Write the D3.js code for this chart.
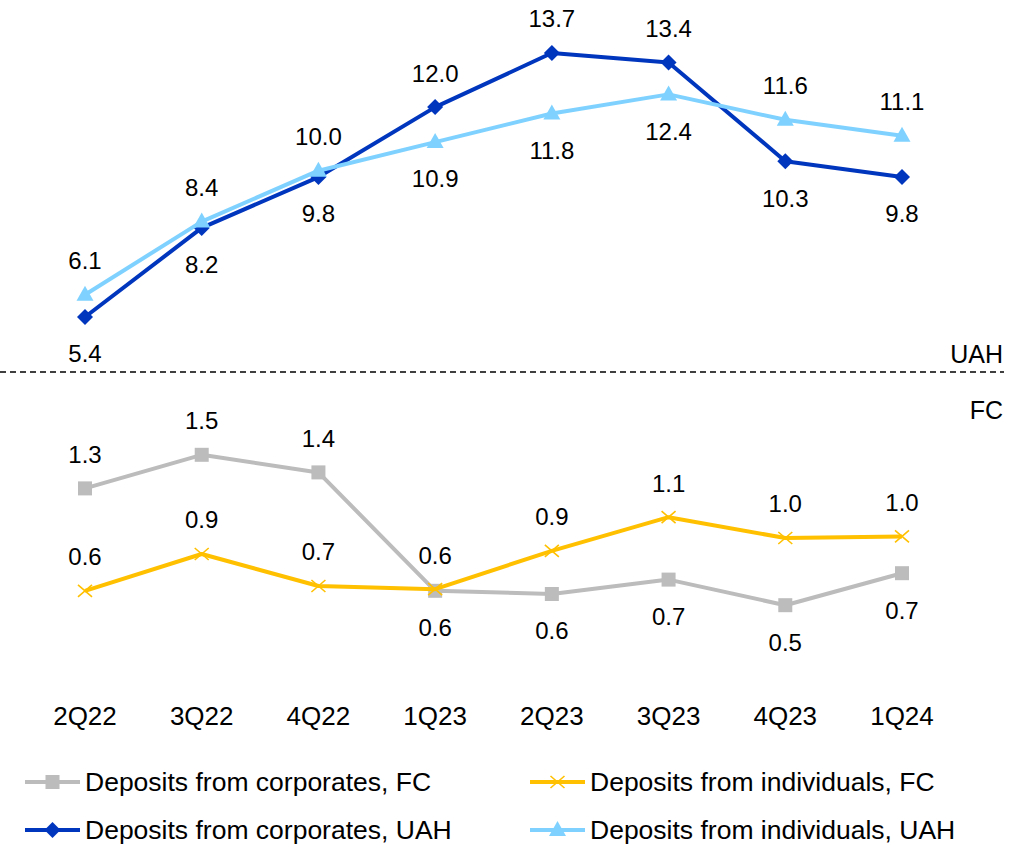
<!DOCTYPE html>
<html>
<head>
<meta charset="utf-8">
<script src="https://cdn.jsdelivr.net/npm/d3@7"></script>
<style>
  body { margin: 0; background: #fff; }
  svg text { font-family: "Liberation Sans", Arial, sans-serif; fill: #000; }
</style>
</head>
<body>
<div class="chart"></div>
<script>
// Quarters on the x axis
var quarters = ["2Q22", "3Q22", "4Q22", "1Q23", "2Q23", "3Q23", "4Q23", "1Q24"];

// UAH deposits
var corpUAH = [5.4, 8.2, 9.8, 12.0, 13.7, 13.4, 10.3, 9.8];
var indivUAH = [6.1, 8.4, 10.0, 10.9, 11.8, 12.4, 11.6, 11.1];

// FC deposits (labels are rounded)
var corpFC = [1.27, 1.48, 1.37, 0.63, 0.61, 0.70, 0.54, 0.74];
var indivFC = [0.63, 0.86, 0.66, 0.64, 0.88, 1.09, 0.96, 0.97];

// where the value label goes for each point
var corpUAHLab = ["b", "b", "b", "a", "a", "a", "b", "b"];
var indivUAHLab = ["a", "a", "a", "b", "b", "b", "a", "a"];
var corpFCLab = ["a", "a", "a", "b", "b", "b", "b", "b"];
var indivFCLab = ["a", "a", "a", "a", "a", "a", "a", "a"];

var svgWidth = 1026;
var svgHeight = 847;

var svg = d3.select(".chart")
            .append("svg")
            .attr("width", svgWidth)
            .attr("height", svgHeight);

var xScale = d3.scalePoint()
               .domain(quarters)
               .range([85, 902]);

// two panels, each with its own scale
var yTop = d3.scaleLinear().domain([4, 14]).range([361.5, 43.5]);
var yBottom = d3.scaleLinear().domain([0, 1.5]).range([691.6, 451.6]);

var series = [
  { name: "Deposits from corporates, FC", values: corpFC, lab: corpFCLab, y: yBottom, color: "#BCBCBC", marker: "square" },
  { name: "Deposits from individuals, FC", values: indivFC, lab: indivFCLab, y: yBottom, color: "#FFC000", marker: "cross" },
  { name: "Deposits from corporates, UAH", values: corpUAH, lab: corpUAHLab, y: yTop, color: "#0035BE", marker: "diamond" },
  { name: "Deposits from individuals, UAH", values: indivUAH, lab: indivUAHLab, y: yTop, color: "#7FD2FF", marker: "triangle" }
];

function drawMarker(g, type, color) {
  if (type === "square") {
    g.append("rect").attr("x", -7).attr("y", -7).attr("width", 14).attr("height", 14).attr("fill", color);
  } else if (type === "diamond") {
    g.append("path").attr("d", "M0,-8L8,0L0,8L-8,0Z").attr("fill", color);
  } else if (type === "triangle") {
    g.append("path").attr("d", "M0,-9L8.5,6L-8.5,6Z").attr("fill", color);
  } else if (type === "cross") {
    g.append("path").attr("d", "M-7,-6L7,6M-7,6L7,-6")
     .attr("stroke", color).attr("stroke-width", 1.6).attr("fill", "none");
  }
}

var line = function(s) {
  return d3.line()
           .x(function(d, i) { return xScale(quarters[i]); })
           .y(function(d) { return s.y(d); });
};

var fmt = d3.format(".1f");

series.forEach(function(s) {
  var g = svg.append("g");
  g.append("path")
   .datum(s.values)
   .attr("d", line(s))
   .attr("fill", "none")
   .attr("stroke", s.color)
   .attr("stroke-width", 4)
   .attr("stroke-linejoin", "round");

  s.values.forEach(function(v, i) {
    var m = g.append("g")
             .attr("transform", `translate(${xScale(quarters[i])}, ${s.y(v)})`);
    drawMarker(m, s.marker, s.color);
  });
});

// value labels on top of everything
series.forEach(function(s) {
  svg.append("g")
     .selectAll("text")
     .data(s.values)
     .enter()
     .append("text")
     .attr("x", function(d, i) { return xScale(quarters[i]); })
     .attr("y", function(d, i) { return s.y(d) + (s.lab[i] === "a" ? -34 : 37); })
     .attr("dy", "0.35em")
     .attr("text-anchor", "middle")
     .style("font-size", "24px")
     .text(function(d) { return fmt(d); });
});

// divider between panels
svg.append("line")
   .attr("x1", 0).attr("x2", 1004)
   .attr("y1", 372).attr("y2", 372)
   .attr("stroke", "#000")
   .attr("stroke-width", 1.3)
   .attr("stroke-dasharray", "6,4");

svg.append("text")
   .attr("x", 1003).attr("y", 363)
   .attr("text-anchor", "end")
   .style("font-size", "25px")
   .text("UAH");

svg.append("text")
   .attr("x", 1003).attr("y", 419)
   .attr("text-anchor", "end")
   .style("font-size", "25px")
   .text("FC");

// category labels
svg.append("g")
   .selectAll("text")
   .data(quarters)
   .enter()
   .append("text")
   .attr("x", d => xScale(d))
   .attr("y", 716)
   .attr("dy", "0.35em")
   .attr("text-anchor", "middle")
   .style("font-size", "26px")
   .text(d => d);

// legend
var legendPos = [[25, 782], [530, 782], [25, 830], [530, 830]];
series.forEach(function(s, i) {
  var lg = svg.append("g")
              .attr("transform", `translate(${legendPos[i][0]}, ${legendPos[i][1]})`);
  lg.append("line")
    .attr("x1", 0).attr("x2", 55)
    .attr("y1", 0).attr("y2", 0)
    .attr("stroke", s.color)
    .attr("stroke-width", 4);
  drawMarker(lg.append("g").attr("transform", "translate(27.5,0)"), s.marker, s.color);
  lg.append("text")
    .attr("x", 60)
    .attr("y", 0)
    .attr("dy", "0.35em")
    .style("font-size", "26.5px")
    .text(s.name);
});
</script>
</body>
</html>
